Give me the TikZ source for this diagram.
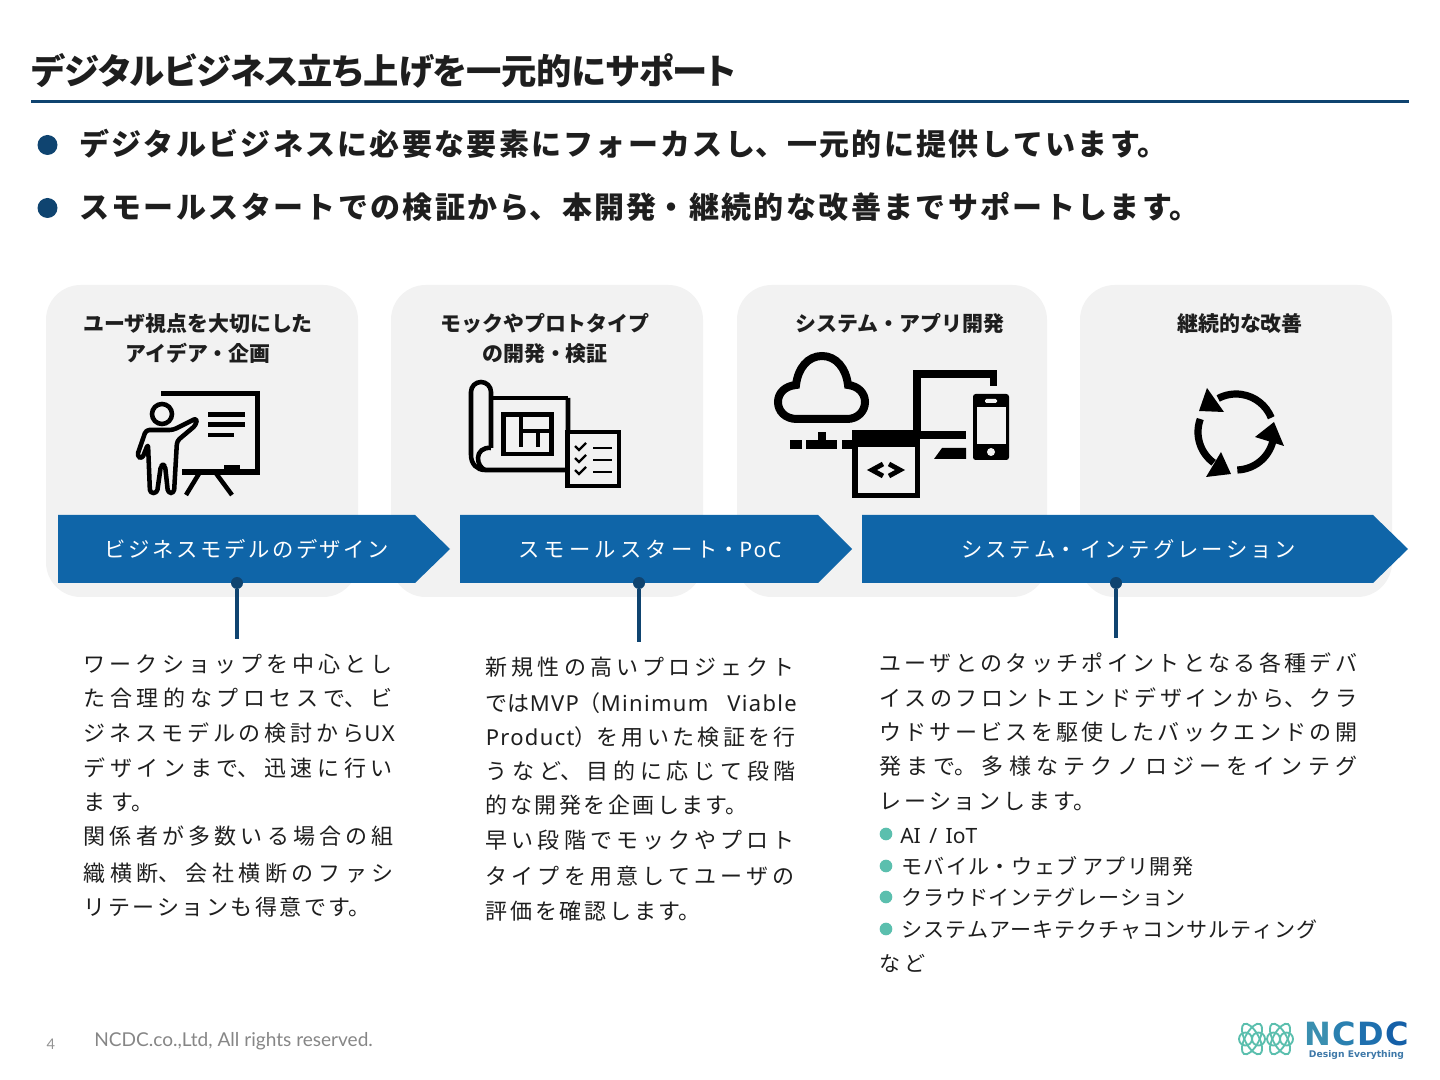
\documentclass[tikz,border=0pt]{standalone}
\usepackage{fontspec}
\setmainfont{Noto Sans CJK JP}
\newfontfamily\palt[RawFeature=+palt]{Noto Sans CJK JP}
\newfontfamily\footfont{Lato}
\newfontfamily\lat{Noto Sans}
\newfontfamily\latsp[LetterSpace=6]{Noto Sans}
\newfontfamily\latb{DejaVu Sans}
\usetikzlibrary{calc}
\XeTeXlinebreaklocale "ja"
\XeTeXlinebreakskip=0pt plus 30pt minus 3pt
\definecolor{navy}{HTML}{0F4470}
\definecolor{arrowblue}{HTML}{0F65A8}
\definecolor{panel}{HTML}{F2F2F2}
\definecolor{ink}{HTML}{1E1E1E}
\definecolor{teal}{HTML}{5BBFAE}
\definecolor{logosub}{HTML}{3E78A8}
\newcounter{ln}
\tikzset{
  x=0.75pt,y=-0.75pt,
  panelbox/.style={fill=panel,rounded corners=26pt,draw=none},
  phase/.style={fill=arrowblue,draw=none},
  titletxt/.style={font=\palt\fontsize{26.5pt}{30pt}\bfseries,text=ink},
  leadtxt/.style={font=\fontsize{22.5pt}{26pt}\bfseries,text=ink},
  headtxt/.style={font=\fontsize{15.7pt}{18pt}\bfseries,text=ink},
  phasetxt/.style={font=\fontsize{16pt}{19pt}\selectfont,text=white},
  bodytxt/.style={font=\fontsize{16.5pt}{20pt}\selectfont,text=ink},
  listtxt/.style={font=\fontsize{15.8pt}{20pt}\selectfont,text=ink},
  bul/.style={circle,fill=navy,inner sep=0pt,minimum size=15pt},
  tbul/.style={circle,fill=teal,inner sep=0pt,minimum size=9.5pt},
  pin/.style={circle,fill=navy,inner sep=0pt,minimum size=9pt},
  stem/.style={draw=navy,line width=2.3pt},
  ico/.style={draw=black,line width=3.4pt},
  logoline/.style={draw=teal,line width=1.4pt},
}
\newcommand{\jline}[5][bodytxt]{\stepcounter{ln}\node[#1,anchor=west,inner sep=0pt] (ln\arabic{ln}) at (#2,#3) {\parbox{\dimexpr#4pt*3/4\relax}{\parfillskip=0pt \tolerance=10000 \hbadness=10000 #5}};}
\newcommand{\ctrline}[4][headtxt]{\stepcounter{ln}\node[#1,anchor=center,inner sep=0pt] (ln\arabic{ln}) at (#2,#3) {#4};}
\begin{document}
\begin{tikzpicture}
\useasboundingbox (0,0) rectangle (1440,1080);
% title
\jline[titletxt]{31}{71}{705}{デジタルビジネス立ち上げを一元的にサポート}
\draw[navy,line width=2.3pt] (31,101.5) -- (1409,101.5);
\node[bul] (b1) at (47.5,145) {};
\node[bul] (b2) at (47.5,208) {};
\jline[leadtxt]{79}{144}{1088}{デジタルビジネスに必要な要素にフォーカスし、一元的に提供しています。}
\jline[leadtxt]{79}{207}{1120}{スモールスタートでの検証から、本開発・継続的な改善までサポートします。}
% panels
\path[panelbox] (46,285) rectangle (358,597);
\path[panelbox] (391,285) rectangle (703,597);
\path[panelbox] (737,285) rectangle (1047,597);
\path[panelbox] (1080,285) rectangle (1392,597);
\ctrline{198}{323.5}{ユーザ視点を大切にした}
\ctrline{198}{353.5}{アイデア・企画}
\ctrline{545}{323.5}{モックやプロトタイプ}
\ctrline{545}{353.5}{の開発・検証}
\ctrline{900}{323.5}{システム・アプリ開発}
\ctrline{1240}{323.5}{継続的な改善}
% icon 1
\begin{scope}
\draw[ico,line width=3.8pt] (161,393.5) -- (257.5,393.5) -- (257.5,472) -- (182,472);
\fill (224,465) rectangle (240,470);
\draw[ico] (200,472) -- (186,495);
\draw[ico] (215,472) -- (232,495);
\fill (208,412) rectangle (245,417);
\fill (208,422) rectangle (245,427);
\fill (208,433) rectangle (234,437);
\draw[ico] (162,414) circle [radius=10];
\draw[ico,line join=round,rounded corners=2.5pt] (197,418) -- (173,430) -- (146,430) -- (137,456) -- (142,459) -- (148,444) -- (150,493) -- (157,493) -- (161,465) -- (165,465) -- (168,493) -- (174,493) -- (177,441) -- (196,425) -- cycle;
\end{scope}
% icon 2
\begin{scope}
\draw[ico] (568,398) -- (491,398);
\draw[ico] (491,448) -- (491,392) arc[start angle=0,end angle=-180,radius=10] -- (471,455) .. controls (471,464) and (477,470) .. (485,470) -- (568,470) -- (568,398);
\draw[ico] (491,448) .. controls (483,447) and (478,452) .. (478,458) .. controls (478,464) and (481,468) .. (485,470);
\draw[ico] (503.5,414.5) rectangle (551.5,454);
\draw[ico] (521,414) -- (521,447);
\draw[ico] (521,431) -- (552,431);
\draw[ico] (538,431) -- (538,447);
\draw[ico,fill=panel,line width=3.6pt] (567.5,432) rectangle (619,486);
\foreach \yy in {447,459,471}{
  \draw[black,line width=1.8pt] (575,\yy-1) -- (579,\yy+3) -- (586,\yy-4);
  \draw[black,line width=1.2pt] (593,\yy+1) -- (612,\yy+1);
}
\end{scope}
% icon 3
\begin{scope}
\draw[ico,line width=6pt] (797,419) .. controls (785,419) and (778,411) .. (778,402) .. controls (778,393) and (785,386) .. (796,385) .. controls (798,368) and (808,356) .. (822,356) .. controls (836,356) and (846,368) .. (848,385) .. controls (858,386) and (865,393) .. (865,402) .. controls (865,411) and (858,419) .. (847,419) -- cycle;
\fill (790,440) rectangle (802,449);
\fill (806,440) rectangle (837,449);
\fill (818,432) rectangle (826,440);
\fill (842,440) rectangle (852,449);
\fill (852,430) rectangle (920,498);
\fill[panel] (858,447) rectangle (915,493);
\draw[black,line width=3.6pt] (883,464) -- (872,470) -- (883,476);
\draw[black,line width=3.6pt] (889,464) -- (900,470) -- (889,476);
\fill (913,370) rectangle (997,378);
\fill (913,370) rectangle (921,431);
\fill (990,378) rectangle (997,386);
\fill (915,431) rectangle (966,439);
\fill (934,459) -- (942,448) -- (966,448) -- (966,459) -- cycle;
\fill[rounded corners=2pt] (973,394) rectangle (1009,460);
\fill[panel] (977,407) rectangle (1006,444);
\fill[panel,rounded corners=1pt] (985,399) rectangle (997,403);
\fill[panel] (991,452) circle [radius=4];
\end{scope}
% icon 4
\begin{scope}
\draw[ico,line width=5.4pt] ([shift={(-22:38)}]1236,432) arc[start angle=-22,end angle=-118,radius=38];
\draw[ico,line width=5.4pt] ([shift={(88:38)}]1236,432) arc[start angle=88,end angle=15,radius=38];
\draw[ico,line width=5.4pt] ([shift={(200:38)}]1236,432) arc[start angle=200,end angle=126,radius=38];
\fill (1207,388) -- (1199,411) -- (1224,412) -- cycle;
\fill (1274,422) -- (1284,446) -- (1255,437) -- cycle;
\fill (1221,452) -- (1231,474) -- (1206,477) -- cycle;
\end{scope}
% phase arrows
\path[phase] (58,515) -- (415,515) -- (450,549) -- (415,583) -- (58,583) -- cycle;
\path[phase] (460,515) -- (818,515) -- (852,549) -- (818,583) -- (460,583) -- cycle;
\path[phase] (862,515) -- (1373,515) -- (1408,549) -- (1373,583) -- (862,583) -- cycle;
\jline[phasetxt]{104}{549}{285}{ビジネスモデルのデザイン}
\jline[phasetxt]{518}{549}{263}{スモールスタート・{\latsp PoC}}
\jline[phasetxt]{961}{549}{335}{システム・インテグレーション}
% pins
\node[pin] (p1) at (237,583) {};
\node[pin] (p2) at (639,583) {};
\node[pin] (p3) at (1116,583) {};
\coordinate (e1) at (237,639);
\coordinate (e2) at (639,642);
\coordinate (e3) at (1116,638);
\draw[stem] (p1) -- (e1);
\draw[stem] (p2) -- (e2);
\draw[stem] (p3) -- (e3);
% column 1
\jline{83.5}{664}{309}{ワークショップを中心とし}
\jline{83.5}{698}{309}{た合理的なプロセスで、ビ}
\jline{83.5}{733}{311}{ジネスモデルの検討から{\latsp UX}}
\jline{83.5}{768}{309}{デザインまで、迅速に行い}
\jline{83.5}{802}{70}{ます。}
\jline{83.5}{836}{310}{関係者が多数いる場合の組}
\jline{83.5}{873}{310}{織横断、会社横断のファシ}
\jline{83.5}{907}{287}{リテーションも得意です。}
% column 2
\jline{485.5}{667}{309}{新規性の高いプロジェクト}
\jline{485.5}{703}{311}{\mbox{では{\latsp MVP}（{\latsp Minimum}} {\latsp\mbox{Viable}}}
\jline{485.5}{737}{310}{\mbox{{\latsp Product}）}を用いた検証を行}
\jline{485.5}{771}{310}{うなど、目的に応じて段階}
\jline{485.5}{805}{262}{的な開発を企画します。}
\jline{485.5}{840}{309}{早い段階でモックやプロト}
\jline{485.5}{876}{309}{タイプを用意してユーザの}
\jline{485.5}{911}{215}{評価を確認します。}
% column 3
\jline{879}{663}{478}{ユーザとのタッチポイントとなる各種デバ}
\jline{879}{698}{478}{イスのフロントエンドデザインから、クラ}
\jline{879}{732}{478}{ウドサービスを駆使したバックエンドの開}
\jline{879}{766}{478}{発まで。多様なテクノロジーをインテグ}
\jline{879}{801}{216}{レーションします。}
\node[tbul] (t1) at (886,834) {};
\node[tbul] (t2) at (886,866) {};
\node[tbul] (t3) at (886,897) {};
\node[tbul] (t4) at (886,929) {};
\jline[listtxt]{900}{836}{77}{\lat AI / IoT}
\jline[listtxt]{901}{866}{292}{モバイル・ウェブ アプリ開発}
\jline[listtxt]{901}{897}{284}{クラウドインテグレーション}
\jline[listtxt]{901}{930}{416}{システムアーキテクチャコンサルティング}
\jline[listtxt]{879}{963}{46}{など}
% footer
\node[inner sep=0pt,text=gray!85,font=\footfont\fontsize{11pt}{13pt}\selectfont] (pg) at (51,1044) {4};
\node[inner sep=0pt,anchor=west,text=gray!95,font=\footfont\fontsize{14.3pt}{17pt}\selectfont] (cr) at (94,1041) {NCDC.co.,Ltd, All rights reserved.};
% logo
\begin{scope}
\foreach \cx in {1252,1280}{
  \draw[logoline,rotate around={-28:(\cx,1039)}] (\cx,1039) ellipse [x radius=7,y radius=17];
  \draw[logoline,rotate around={28:(\cx,1039)}] (\cx,1039) ellipse [x radius=7,y radius=17];
  \draw[logoline] (\cx-6.5,1039) circle [radius=6.5];
  \draw[logoline] (\cx+6.5,1039) circle [radius=6.5];
}
\end{scope}
\node[inner sep=0pt,anchor=center,font=\latb\fontsize{24pt}{26pt}\bfseries] (ncdc) at (1356.5,1034) {\textcolor[HTML]{3A8FB0}{N}\kern1pt\textcolor[HTML]{2A80B0}{C}\kern1pt\textcolor[HTML]{1F70AE}{D}\kern1pt\textcolor[HTML]{1560A8}{C}};
\node[inner sep=0pt,anchor=center,text=logosub,font=\latb\fontsize{6.9pt}{8pt}\bfseries] (de) at (1356.5,1054.5) {Design Everything};
\end{tikzpicture}
\end{document}
